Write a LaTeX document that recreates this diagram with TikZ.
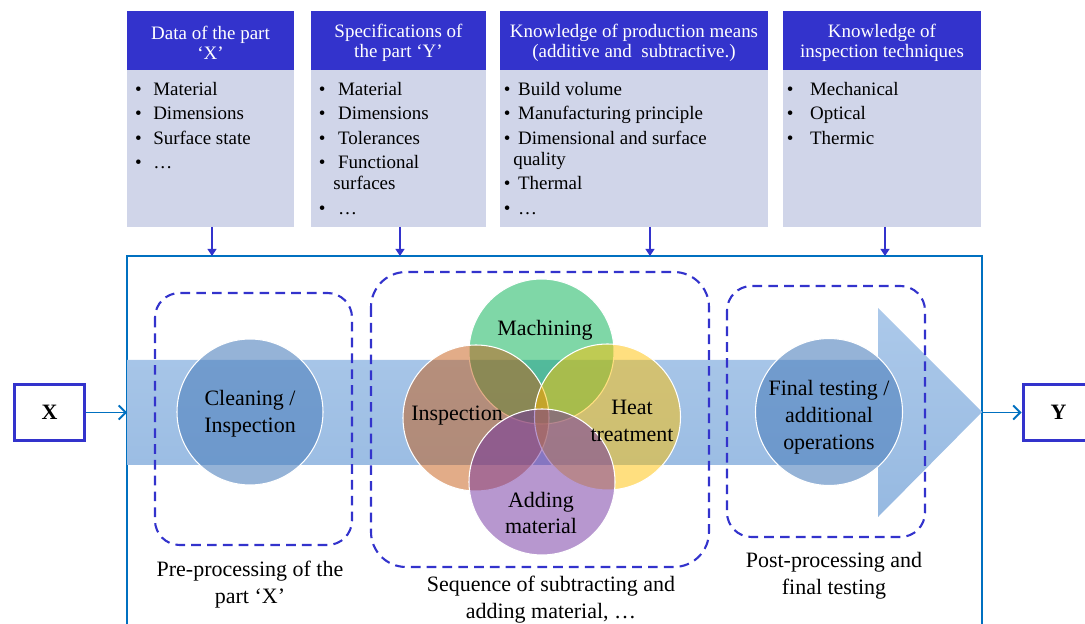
\documentclass[tikz,border=0pt]{standalone}
\usepackage{fontspec}
\setmainfont{Liberation Serif}
\usetikzlibrary{arrows.meta}
\definecolor{headblue}{RGB}{51,51,204}
\definecolor{bodygrey}{RGB}{208,213,233}
\definecolor{frameblue}{RGB}{0,112,192}
\definecolor{bandtop}{RGB}{172,201,234}
\definecolor{bandbot}{RGB}{150,185,225}
\definecolor{discblue}{RGB}{79,129,189}
\definecolor{vgreen}{RGB}{0,176,80}
\definecolor{vorange}{RGB}{197,90,17}
\definecolor{vyellow}{RGB}{255,192,0}
\definecolor{vpurple}{RGB}{112,48,160}
\begin{document}
\begin{tikzpicture}[x=0.02cm,y=-0.02cm,
    headtxt/.style={text=white,align=center,inner sep=0pt,font=\fontsize{10.8}{11.3}\selectfont},
    listtxt/.style={align=left,anchor=north west,inner sep=0pt,font=\fontsize{10.8}{11.9}\selectfont},
    bigtxt/.style={align=center,inner sep=0pt,font=\fontsize{12.5}{15.3}\selectfont},
    disc/.style={draw=white,line width=0.6pt,fill opacity=0.5},
    grp/.style={headblue,line width=1.2pt,dash pattern=on 5.5pt off 3.5pt,rounded corners=14pt},
    feed/.style={headblue,line width=1.1pt,-{Triangle[length=4pt,width=5pt]}},
    flow/.style={frameblue,line width=1.1pt,-{Straight Barb[length=4pt,width=8pt]}},
    endbox/.style={draw=headblue,line width=1.7pt,fill=white,minimum width=40.3pt,minimum height=32.3pt,font=\fontsize{12.5}{14}\selectfont\bfseries}]
  \useasboundingbox (0,0) rectangle (1085,624);

  % input boxes
  \fill[headblue] (127,11) rectangle (294,70);
  \fill[bodygrey] (127,70) rectangle (294,227);
  \fill[headblue] (311,11) rectangle (486,70);
  \fill[bodygrey] (311,70) rectangle (486,227);
  \fill[headblue] (500,11) rectangle (768,70);
  \fill[bodygrey] (500,70) rectangle (768,227);
  \fill[headblue] (783,11) rectangle (981,70);
  \fill[bodygrey] (783,70) rectangle (981,227);

  \node[headtxt] (partX) at (210.5,43) {Data of the part\\`X'};
  \node[headtxt] (partY) at (398.5,43) {Specifications of\\the part `Y'};
  \node[headtxt] (prod) at (634,43) {Knowledge of production means\\(additive and~ subtractive.)};
  \node[headtxt] (insp) at (882,43) {Knowledge of\\inspection techniques};

  \node[listtxt] (partXl) at (134.7,82) {\textbullet\hspace{6.6pt}Material\\[2pt]
    \textbullet\hspace{6.6pt}Dimensions\\[2pt]
    \textbullet\hspace{6.6pt}Surface state\\[2pt]
    \textbullet\hspace{6.6pt}…};
  \node[listtxt] (partYl) at (318.6,82) {\textbullet\hspace{7.1pt}Material\\[2pt]
    \textbullet\hspace{7.1pt}Dimensions\\[2pt]
    \textbullet\hspace{7.1pt}Tolerances\\[2pt]
    \textbullet\hspace{7.1pt}Functional\\
    \hspace{8.2pt}surfaces\\[2pt]
    \textbullet\hspace{7.1pt}…};
  \node[listtxt] (prodl) at (503.6,82) {\textbullet\hspace{4.3pt}Build volume\\[2pt]
    \textbullet\hspace{4.3pt}Manufacturing principle\\[2pt]
    \textbullet\hspace{4.3pt}Dimensional and surface\\
    \hspace{5.3pt}quality\\[2pt]
    \textbullet\hspace{4.3pt}Thermal\\[2pt]
    \textbullet\hspace{4.3pt}…};
  \node[listtxt] (inspl) at (786.6,82) {\textbullet\hspace{9.4pt}Mechanical\\[2pt]
    \textbullet\hspace{9.4pt}Optical\\[2pt]
    \textbullet\hspace{9.4pt}Thermic};

  % process frame
  \coordinate (frmN) at (0,256);
  \coordinate (frmW) at (127,0);
  \coordinate (frmE) at (982,0);
  \draw[frameblue,line width=1.1pt] (127,640) -- (127,256) -- (982,256) -- (982,640);

  \coordinate (ft1) at (212,227);
  \coordinate (ft2) at (400,227);
  \coordinate (ft3) at (650,227);
  \coordinate (ft4) at (885,227);
  \foreach \f in {ft1,ft2,ft3,ft4}
    \draw[feed] (\f) -- (\f |- frmN);

  % big arrow
  \shade[top color=bandtop,bottom color=bandbot] (127,360) -- (878,360) -- (878,308) -- (982,412)
    -- (878,517) -- (878,465) -- (127,465) -- cycle;

  % steps
  \fill[disc,fill=discblue,fill opacity=0.6] (250,412) circle (73);
  \fill[disc,fill=discblue,fill opacity=0.6] (829,412) circle (73.5);
  \fill[disc,fill=vgreen] (541.5,351.5) circle (72.5);
  \fill[disc,fill=vorange] (476,418) circle (73);
  \fill[disc,fill=vyellow] (607.5,417) circle (73);
  \fill[disc,fill=vpurple] (542,482) circle (73);

  \node[bigtxt] (clean) at (250,414) {Cleaning /\\Inspection};
  \node[bigtxt] (final) at (829,417) {Final testing /\\additional\\operations};
  \node[bigtxt] (mach) at (545,330) {Machining};
  \node[bigtxt] (inspc) at (457,416) {Inspection};
  \node[bigtxt] (heat) at (632,421) {Heat\\treatment};
  \node[bigtxt] (add) at (541,513) {Adding\\material};

  % groups
  \draw[grp] (155,293) rectangle (352,545);
  \draw[grp,rounded corners=20pt] (371,272) rectangle (709,567);
  \draw[grp] (727,286) rectangle (925,537);

  \node[bigtxt] (prelbl) at (250,585) {Pre-processing of the\\part `X'};
  \node[bigtxt] (seqlbl) at (551,600) {Sequence of subtracting and\\adding material, …};
  \node[bigtxt] (postlbl) at (834,576) {Post-processing and\\final testing};

  % input and output
  \node[endbox] (X) at (49.5,412.5) {X};
  \node[endbox] (Y) at (1058.5,412.5) {Y};
  \draw[flow] (X.east) -- (X.east -| frmW);
  \draw[flow] (Y.west -| frmE) -- (Y.west);
\end{tikzpicture}
\end{document}
